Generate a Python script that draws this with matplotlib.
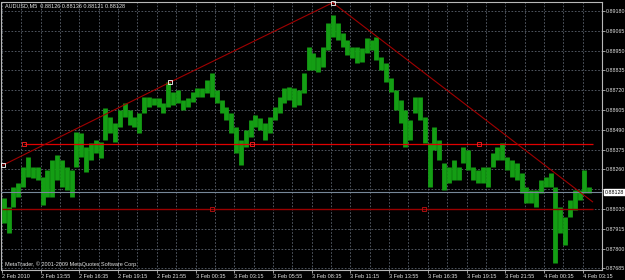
import numpy as np
import matplotlib
matplotlib.use('Agg')
import matplotlib.pyplot as plt
import matplotlib.transforms as mtransforms

plt.rcParams['font.family'] = ['Liberation Sans', 'DejaVu Sans']

symbol = "AUDUSD,M5"
last_ohlc = ["0.88126", "0.88136", "0.88121", "0.88128"]
bid = 0.88128
copyright_txt = "MetaTrader, \u00a9 2001-2009 MetaQuotes Software Corp."

# M5 chart in chunks of 4 bars (high / low of each chunk)
bars_per_chunk = 4
highs = [0.88092, 0.88044, 0.88160, 0.88179, 0.88276, 0.88334, 0.88276, 0.88276,
         0.88218, 0.88257, 0.88315, 0.88344, 0.88315, 0.88276, 0.88257, 0.88479,
         0.88470, 0.88392, 0.88411, 0.88431, 0.88421, 0.88615, 0.88566, 0.88528,
         0.88605, 0.88644, 0.88605, 0.88566, 0.88586, 0.88682, 0.88682, 0.88673,
         0.88673, 0.88644, 0.88770, 0.88712, 0.88721, 0.88663, 0.88673, 0.88712,
         0.88731, 0.88731, 0.88779, 0.88822, 0.88721, 0.88663, 0.88624, 0.88586,
         0.88508, 0.88431, 0.88489, 0.88547, 0.88576, 0.88557, 0.88528, 0.88566,
         0.88624, 0.88683, 0.88731, 0.88741, 0.88731, 0.88721, 0.88818, 0.88973,
         0.88934, 0.88915, 0.88973, 0.89108, 0.89157, 0.89108, 0.89050, 0.89012,
         0.88973, 0.88973, 0.88963, 0.89021, 0.89012, 0.89031, 0.88915, 0.88876,
         0.88789, 0.88721, 0.88663, 0.88605, 0.88547, 0.88683, 0.88683, 0.88566,
         0.88411, 0.88508, 0.88431, 0.88295, 0.88276, 0.88315, 0.88276, 0.88392,
         0.88373, 0.88276, 0.88257, 0.88276, 0.88276, 0.88353, 0.88392, 0.88411,
         0.88334, 0.88315, 0.88295, 0.88237, 0.88160, 0.88140, 0.88140, 0.88199,
         0.88218, 0.88237, 0.88160, 0.88044, 0.87986, 0.88082, 0.88140, 0.88140,
         0.88257, 0.88160]
lows = [0.87947, 0.87889, 0.88044, 0.88102, 0.88160, 0.88218, 0.88208, 0.88198,
        0.88053, 0.88102, 0.88102, 0.88198, 0.88160, 0.88140, 0.88102, 0.88276,
        0.88334, 0.88247, 0.88315, 0.88353, 0.88324, 0.88431, 0.88470, 0.88421,
        0.88508, 0.88566, 0.88518, 0.88508, 0.88470, 0.88586, 0.88624, 0.88634,
        0.88624, 0.88586, 0.88624, 0.88634, 0.88644, 0.88605, 0.88624, 0.88653,
        0.88682, 0.88683, 0.88702, 0.88683, 0.88644, 0.88586, 0.88547, 0.88470,
        0.88353, 0.88286, 0.88392, 0.88450, 0.88508, 0.88489, 0.88431, 0.88470,
        0.88547, 0.88586, 0.88644, 0.88663, 0.88624, 0.88634, 0.88702, 0.88837,
        0.88837, 0.88828, 0.88857, 0.88954, 0.89031, 0.89012, 0.88973, 0.88924,
        0.88905, 0.88876, 0.88886, 0.88934, 0.88954, 0.88895, 0.88837, 0.88770,
        0.88712, 0.88605, 0.88528, 0.88392, 0.88431, 0.88586, 0.88547, 0.88411,
        0.88160, 0.88373, 0.88315, 0.88140, 0.88179, 0.88199, 0.88199, 0.88295,
        0.88257, 0.88199, 0.88179, 0.88179, 0.88160, 0.88276, 0.88315, 0.88315,
        0.88257, 0.88218, 0.88199, 0.88121, 0.88063, 0.88063, 0.88044, 0.88121,
        0.88160, 0.88160, 0.87715, 0.87889, 0.87821, 0.87986, 0.88024, 0.88082,
        0.88121, 0.88121]

date_labels = ["2 Feb 2010", "2 Feb 13:55", "2 Feb 16:35", "2 Feb 19:15",
               "2 Feb 21:55", "3 Feb 00:35", "3 Feb 03:15", "3 Feb 05:55",
               "3 Feb 08:35", "3 Feb 11:15", "3 Feb 13:55", "3 Feb 16:35",
               "3 Feb 19:15", "3 Feb 21:55", "4 Feb 00:35", "4 Feb 03:15"]
label_step = 32  # M5 bars between date labels
price_ticks = [0.89180, 0.89065, 0.88950, 0.88835, 0.88720, 0.88605, 0.88490,
               0.88375, 0.88260, 0.88145, 0.88030, 0.87915, 0.87800, 0.87685]

# objects drawn on the chart (bar index, price)
up_trend_x = [0.6, 138.9, 273.4]
up_trend_y = [0.88284, 0.88766, 0.89228]
down_trend_x = [273.4, 488.2]
down_trend_y = [0.89228, 0.88072]
resist_level = 0.88406
resist_x = [18.5, 206.3, 394.6]
support_level = 0.88030
support_x = [173.8, 348.6]

x_lo, x_hi = -0.4, 488.2
y_lo, y_hi = 0.87676, 0.89232

fs = 4.0
fs_price = 3.8
txt_col = '#e4e4e4'
grid_col = '#5d6470'
frame_col = '#b8b8b8'

fig = plt.figure(figsize=(6.25, 2.8), dpi=100, facecolor='black')
ax = fig.add_axes([1.5 / 625, 10 / 280, 600.5 / 625, 268 / 280])
ax.set_facecolor('black')
ax.set_xlim(x_lo, x_hi)
ax.set_ylim(y_lo, y_hi)

# grid
ax.set_xticks(np.arange(len(date_labels)) * label_step)
ax.set_xticks(np.arange(len(date_labels)) * label_step + label_step / 2, minor=True)
ax.set_yticks(price_ticks)
ax.grid(True, which='both', color=grid_col, linestyle=(0, (2, 2)), linewidth=0.6)
ax.set_axisbelow(True)

# bars
xs = np.arange(len(highs)) * bars_per_chunk + 1.5
ax.vlines(xs, lows, highs, color='#149e14', linewidth=3.45, zorder=2)

# bid line
ax.axhline(bid, color='#778899', linewidth=0.8, zorder=3)

# levels
ax.hlines(support_level, x_lo, x_hi, color='#9a0000', linewidth=1.0, zorder=3)
ax.plot(support_x, [support_level] * len(support_x), 's', ms=2.2, mfc='none',
        mec='#c01010', mew=0.6, zorder=4)
ax.hlines(resist_level, resist_x[0], x_hi, color='#e00000', linewidth=0.9, zorder=3)
ax.plot(resist_x, [resist_level] * len(resist_x), 's', ms=2.2, mfc='none',
        mec='#ff2020', mew=0.6, zorder=4)

# trend lines
ax.plot(up_trend_x, up_trend_y, color='#a00000', linewidth=0.8, zorder=3)
ax.plot(down_trend_x, down_trend_y, color='#a00000', linewidth=0.8, zorder=3)
ax.plot(up_trend_x, up_trend_y, 's', ms=2.2, mfc='none', mec='white', mew=0.6,
        zorder=4, clip_on=False)

for s in ax.spines.values():
    s.set_color(frame_col)
    s.set_linewidth(0.8)

ax.yaxis.tick_right()
ax.tick_params(axis='y', which='major', colors=frame_col, length=2.2, width=0.6,
               pad=0.6, labelsize=fs_price, labelcolor=txt_col)
ax.tick_params(axis='x', which='major', colors=frame_col, length=2.5, width=0.6,
               pad=0.6, labelsize=fs, labelcolor=txt_col)
ax.tick_params(axis='x', which='minor', length=0)
# the bid box sits where the 0.88145 label would be
ax.set_yticklabels(["" if abs(p - bid) < 0.0003 else "%.5f" % p for p in price_ticks])
ax.set_xticklabels(date_labels)
for lbl in ax.get_xticklabels():
    lbl.set_horizontalalignment('left')

# current price box
trans = mtransforms.blended_transform_factory(ax.transAxes, ax.transData)
ax.text(1.0052, bid, "%.5f" % bid, transform=trans, fontsize=fs_price, color='black',
        va='center', ha='left', zorder=6,
        bbox=dict(boxstyle='square,pad=0.15', fc='white', ec='white'))

fig.text(5 / 625, 1 - 6 / 280, symbol + "  " + " ".join(last_ohlc), fontsize=fs,
         color=txt_col, va='center', ha='left')
ax.text(3 / 600, 6 / 268, copyright_txt, transform=ax.transAxes, fontsize=fs,
        color=txt_col, va='center', ha='left')

fig.savefig('out.png', dpi=100, facecolor='black')
